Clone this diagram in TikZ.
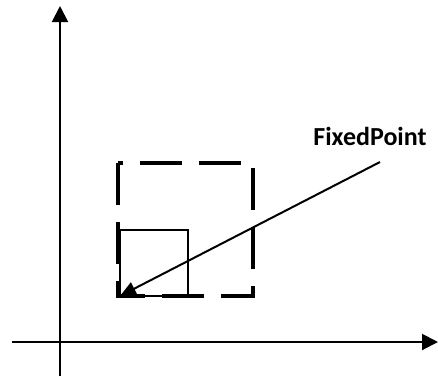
\documentclass[tikz,border=0pt]{standalone}
\usepackage{fontspec}
\setmainfont{Carlito}
\usepackage{tikz}
\usetikzlibrary{arrows.meta, positioning}

\begin{document}
\begin{tikzpicture}[x=1pt, y=-1pt,
  axis/.style={line width=2pt, -{Triangle[length=16pt, width=16pt]}},
  dashbox/.style={line width=4pt, dash pattern=on 42pt off 17pt},
  pointer/.style={line width=2pt, -{Triangle[length=16pt, width=14pt]}},
  lbl/.style={font=\fontsize{26}{30}\selectfont\bfseries, inner sep=0pt}]
  \useasboundingbox (0,0) rectangle (438,376);
  % axes
  \coordinate (xs) at (12,342);
  \coordinate (xe) at (438,342);
  \coordinate (ys) at (60,376);
  \coordinate (ye) at (60,6);
  \draw[axis] (xs) -- (xe);
  \draw[axis] (ys) -- (ye);
  % boxes
  \draw[dashbox] (118,163) rectangle (253,296);
  \draw[line width=1.5pt] (120,230) rectangle (188,296);
  % fixed point
  \coordinate (fp) at (120,296);
  \coordinate (tail) at (380,162);
  \node[lbl, anchor=south] (fixlabel) at (370,146) {FixedPoint};
  \draw[pointer] (tail) -- (fp);
\end{tikzpicture}
\end{document}
